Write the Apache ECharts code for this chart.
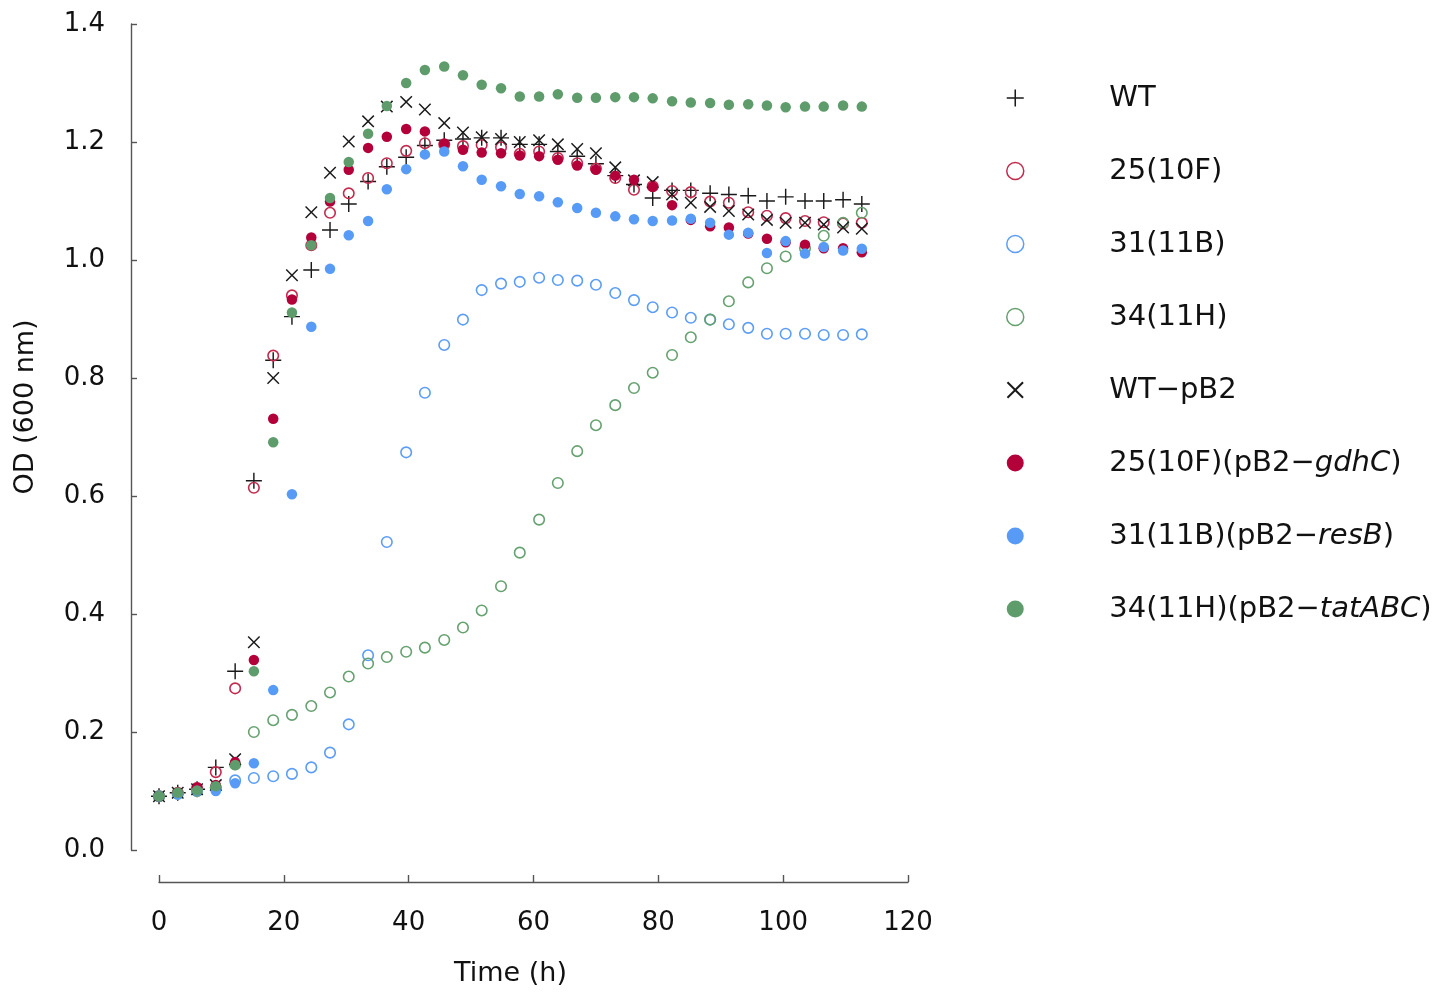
<!DOCTYPE html>
<html>
<head>
<meta charset="utf-8">
<script src="https://cdn.jsdelivr.net/npm/echarts@6/dist/echarts.min.js"></script>
<style>
html,body{margin:0;padding:0;background:#fff;}
#chart{width:1437px;height:992px;}
</style>
</head>
<body>
<div id="chart"></div>
<script>
// ---- data ----
const times = [0, 3.0, 6.1, 9.1, 12.2, 15.2, 18.3, 21.3, 24.4, 27.4, 30.4, 33.5, 36.5, 39.6, 42.6, 45.7, 48.7, 51.7, 54.8, 57.8, 60.9, 63.9, 67.0, 70.0, 73.1, 76.1, 79.1, 82.2, 85.2, 88.3, 91.3, 94.4, 97.4, 100.4, 103.5, 106.5, 109.6, 112.6];

const seriesNames = ['WT', '25(10F)', '31(11B)', '34(11H)', 'WT\u2212pB2', '25(10F)(pB2\u2212gdhC)', '31(11B)(pB2\u2212resB)', '34(11H)(pB2\u2212tatABC)'];

const wt = [0.091, 0.097, 0.103, 0.140, 0.303, 0.626, 0.830, 0.904, 0.983, 1.051, 1.095, 1.133, 1.158, 1.174, 1.194, 1.203, 1.205, 1.207, 1.207, 1.196, 1.196, 1.184, 1.176, 1.163, 1.143, 1.128, 1.105, 1.118, 1.118, 1.113, 1.111, 1.109, 1.100, 1.107, 1.100, 1.100, 1.102, 1.095];
const m25 = [0.091, 0.097, 0.105, 0.132, 0.274, 0.614, 0.838, 0.940, 1.025, 1.080, 1.113, 1.139, 1.164, 1.185, 1.198, 1.196, 1.193, 1.195, 1.191, 1.180, 1.184, 1.173, 1.164, 1.155, 1.139, 1.119, 1.125, 1.117, 1.115, 1.099, 1.097, 1.081, 1.075, 1.071, 1.066, 1.064, 1.062, 1.063];
const m31 = [0.091, 0.095, 0.100, 0.105, 0.118, 0.122, 0.125, 0.129, 0.140, 0.165, 0.213, 0.330, 0.522, 0.674, 0.775, 0.856, 0.899, 0.949, 0.960, 0.963, 0.970, 0.966, 0.965, 0.958, 0.944, 0.932, 0.920, 0.911, 0.902, 0.899, 0.891, 0.885, 0.875, 0.875, 0.875, 0.873, 0.873, 0.874];
const m34 = [0.091, 0.096, 0.100, 0.106, 0.145, 0.200, 0.220, 0.229, 0.244, 0.267, 0.294, 0.316, 0.327, 0.336, 0.343, 0.356, 0.377, 0.406, 0.447, 0.504, 0.560, 0.622, 0.676, 0.720, 0.754, 0.783, 0.809, 0.839, 0.869, 0.899, 0.930, 0.962, 0.986, 1.006, 1.020, 1.041, 1.063, 1.080];
const wtpB2 = [0.091, 0.097, 0.103, 0.110, 0.154, 0.352, 0.800, 0.974, 1.081, 1.148, 1.201, 1.235, 1.260, 1.268, 1.255, 1.232, 1.216, 1.208, 1.205, 1.200, 1.203, 1.196, 1.188, 1.181, 1.157, 1.135, 1.132, 1.111, 1.097, 1.090, 1.083, 1.077, 1.068, 1.063, 1.063, 1.060, 1.055, 1.053];
const c25 = [0.091, 0.097, 0.106, 0.110, 0.149, 0.322, 0.731, 0.933, 1.038, 1.099, 1.153, 1.190, 1.209, 1.222, 1.218, 1.197, 1.187, 1.182, 1.181, 1.177, 1.176, 1.170, 1.160, 1.153, 1.143, 1.136, 1.124, 1.093, 1.068, 1.057, 1.055, 1.045, 1.036, 1.030, 1.026, 1.020, 1.020, 1.013];
const c31 = [0.091, 0.095, 0.100, 0.100, 0.113, 0.147, 0.271, 0.603, 0.887, 0.985, 1.042, 1.066, 1.120, 1.154, 1.179, 1.184, 1.159, 1.136, 1.125, 1.112, 1.108, 1.098, 1.088, 1.080, 1.074, 1.069, 1.066, 1.067, 1.070, 1.063, 1.043, 1.046, 1.012, 1.032, 1.011, 1.022, 1.016, 1.019];
const c34 = [0.091, 0.097, 0.101, 0.108, 0.144, 0.303, 0.691, 0.911, 1.025, 1.105, 1.166, 1.214, 1.261, 1.300, 1.322, 1.328, 1.313, 1.297, 1.291, 1.277, 1.277, 1.281, 1.275, 1.275, 1.276, 1.276, 1.274, 1.269, 1.267, 1.266, 1.263, 1.264, 1.262, 1.259, 1.260, 1.260, 1.262, 1.260];

const xTicks = [0, 20, 40, 60, 80, 100, 120];
const yTicks = [0.0, 0.2, 0.4, 0.6, 0.8, 1.0, 1.2, 1.4];

// ---- styles ----
const FONT = 'DejaVu Sans';
const RED = '#B3003A', RED_RING = '#C42A4E';
const BLUE = '#579BF7', BLUE_RING = '#5C9DF6';
const GREEN = '#5F9C6B', GREEN_RING = '#66A170';
const BLACK = '#1a1a1a';

// plus-shaped outline (filled polygon), and the same rotated 45deg for the cross
const t = 0.9, L = 10;
const plusPts = [[-t,-L],[t,-L],[t,-t],[L,-t],[L,t],[t,t],[t,L],[-t,L],[-t,t],[-L,t],[-L,-t],[-t,-t]];
function toPath(pts){ return 'path://' + pts.map((p,i)=>(i?'L':'M')+p[0].toFixed(3)+','+p[1].toFixed(3)).join('') + 'Z'; }
const PLUS = toPath(plusPts);
const c = Math.SQRT1_2;
const CROSS = toPath(plusPts.map(p=>[(p[0]-p[1])*c,(p[0]+p[1])*c]));

function pairs(vals){ return times.map((tt,i)=>[tt, vals[i]]); }

const styles = [
  {data: wt,    symbol: PLUS,    size: 16, item: {color: BLACK, borderWidth: 0}},
  {data: m25,   symbol: 'circle', size: 10.5, item: {color: 'rgba(0,0,0,0)', borderColor: RED_RING, borderWidth: 1.6}},
  {data: m31,   symbol: 'circle', size: 10.5, item: {color: 'rgba(0,0,0,0)', borderColor: BLUE_RING, borderWidth: 1.6}},
  {data: m34,   symbol: 'circle', size: 10.5, item: {color: 'rgba(0,0,0,0)', borderColor: GREEN_RING, borderWidth: 1.6}},
  {data: wtpB2, symbol: CROSS,   size: 12.5, item: {color: BLACK, borderWidth: 0}},
  {data: c25,   symbol: 'circle', size: 10.5, item: {color: RED, borderWidth: 0}},
  {data: c31,   symbol: 'circle', size: 10.5, item: {color: BLUE, borderWidth: 0}},
  {data: c34,   symbol: 'circle', size: 10.5, item: {color: GREEN, borderWidth: 0}}
];

const series = styles.map((s, i) => ({
  name: seriesNames[i],
  type: 'scatter',
  symbol: s.symbol,
  symbolSize: s.size,
  itemStyle: Object.assign({opacity: 1}, s.item),
  emphasis: {disabled: true},
  animation: false,
  data: pairs(s.data)
}));

const legendData = styles.map((s, i) => ({
  name: seriesNames[i],
  icon: s.symbol,
  itemStyle: Object.assign({}, s.item, s.symbol === 'circle' && s.item.borderWidth ? {borderWidth: 1.5} : {})
}));

function legendFmt(name){
  const m = name.match(/^(.*\u2212)([A-Za-z]+)\)$/);
  if (m && name.indexOf('(pB2') >= 0) return '{n|' + m[1] + '}{i|' + m[2] + '}{n|)}';
  return '{n|' + name + '}';
}

const chart = echarts.init(document.getElementById('chart'), null, {renderer: 'canvas'});
chart.setOption({
  backgroundColor: '#ffffff',
  animation: false,
  grid: {left: 159, right: 529, top: 24, bottom: 141, containLabel: false},
  legend: {
    orient: 'vertical',
    left: 1001,
    top: 78,
    itemWidth: 178,
    itemHeight: 17,
    itemGap: 43,
    selectedMode: false,
    data: legendData,
    formatter: legendFmt,
    textStyle: {
      fontFamily: FONT, fontSize: 29, color: '#111', lineHeight: 30,
      rich: {
        n: {fontFamily: FONT, fontSize: 29, color: '#111', lineHeight: 30},
        i: {fontFamily: FONT, fontSize: 29, color: '#111', lineHeight: 30, fontStyle: 'italic'}
      }
    }
  },
  xAxis: {
    type: 'value',
    min: xTicks[0], max: xTicks[xTicks.length-1], interval: xTicks[1]-xTicks[0],
    offset: 32,
    axisLine: {show: true, onZero: false, lineStyle: {color: '#555', width: 1.4}},
    axisTick: {show: true, inside: true, length: 7, lineStyle: {color: '#555', width: 1.4}},
    axisLabel: {fontFamily: FONT, fontSize: 26, color: '#111', margin: 28},
    splitLine: {show: false},
    name: 'Time (h)',
    nameLocation: 'middle',
    nameGap: 78,
    nameTextStyle: {fontFamily: FONT, fontSize: 27, color: '#111', padding: [0, 46, 0, 0]}
  },
  yAxis: {
    type: 'value',
    min: yTicks[0], max: yTicks[yTicks.length-1], interval: 0.2,
    offset: 28,
    axisLine: {show: true, onZero: false, lineStyle: {color: '#555', width: 1.4}},
    axisTick: {show: true, inside: true, length: 6, lineStyle: {color: '#555', width: 1.4}},
    axisLabel: {fontFamily: FONT, fontSize: 26, color: '#111', margin: 26, formatter: v => v.toFixed(1)},
    splitLine: {show: false},
    name: 'OD (600 nm)',
    nameLocation: 'middle',
    nameGap: 92,
    nameRotate: 90,
    nameTextStyle: {fontFamily: FONT, fontSize: 27, color: '#111', padding: [0, 0, 0, 60]}
  },
  series: series
});
</script>
</body>
</html>
